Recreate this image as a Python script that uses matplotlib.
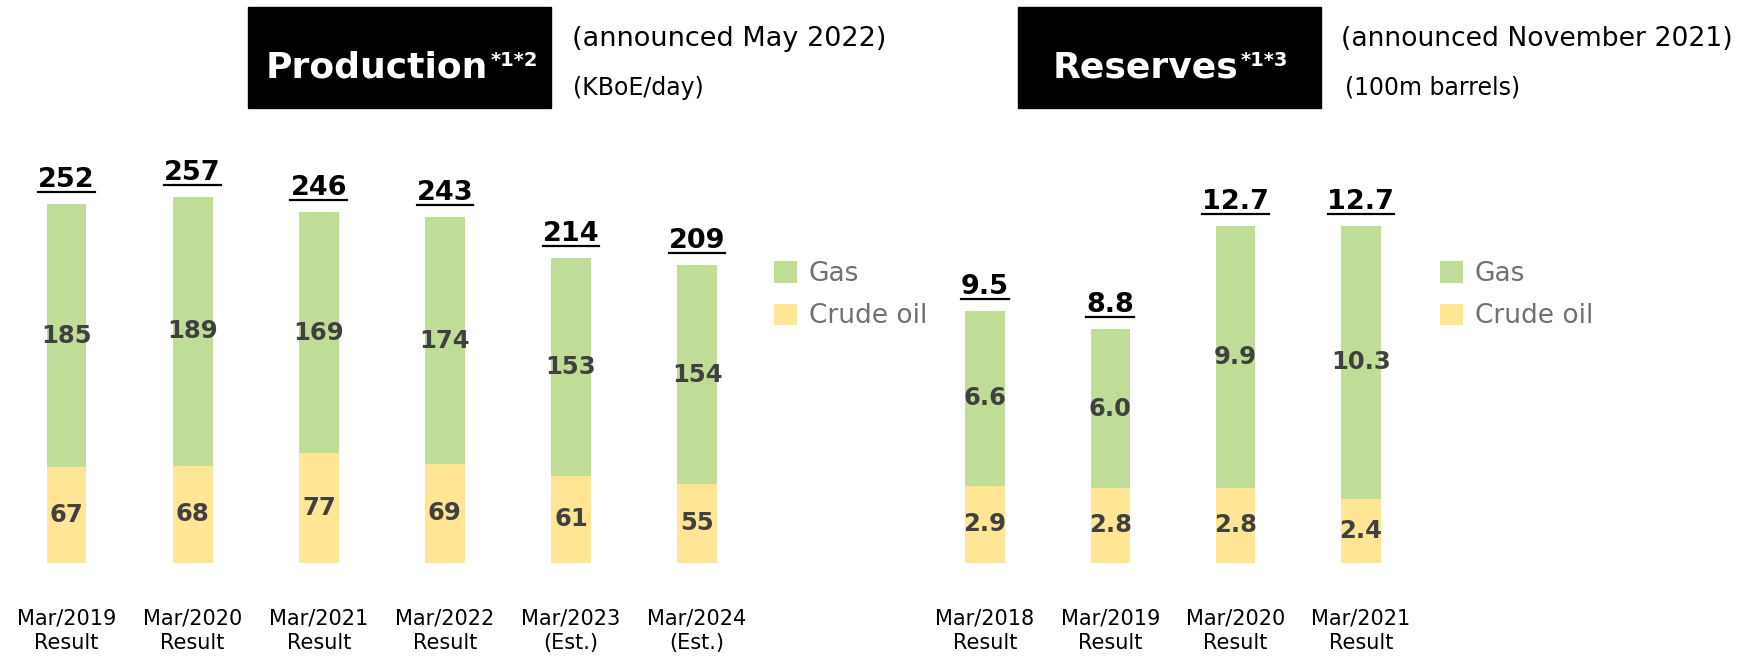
import matplotlib
matplotlib.use('Agg')
import matplotlib.pyplot as plt
from matplotlib.patches import Rectangle
from matplotlib.lines import Line2D

# Production (KBoE/day)
prod_labels = ['Mar/2019\nResult', 'Mar/2020\nResult', 'Mar/2021\nResult',
               'Mar/2022\nResult', 'Mar/2023\n(Est.)', 'Mar/2024\n(Est.)']
prod_oil = [67, 68, 77, 69, 61, 55]
prod_gas = [185, 189, 169, 174, 153, 154]
prod_total = [252, 257, 246, 243, 214, 209]

# Reserves (100m barrels)
res_labels = ['Mar/2018\nResult', 'Mar/2019\nResult', 'Mar/2020\nResult', 'Mar/2021\nResult']
res_oil = [2.9, 2.8, 2.8, 2.4]
res_gas = [6.6, 6.0, 9.9, 10.3]
res_total = [9.5, 8.8, 12.7, 12.7]

GAS = '#C0DD98'
OIL = '#FFE594'
VAL = '#404040'

W, H = 1757, 656
fig = plt.figure(figsize=(W / 100, H / 100), dpi=100)


def fx(px):
    return px / W


def fy(py):
    return 1 - py / H


def stacked(ax, labels, oil, gas, total, fmt):
    x = range(len(labels))
    b_oil = ax.bar(x, oil, width=0.315, color=OIL)
    b_gas = ax.bar(x, gas, width=0.315, bottom=oil, color=GAS)
    ax.bar_label(b_oil, labels=[fmt.format(v) for v in oil], label_type='center',
                 fontsize=17.5, fontweight='bold', color=VAL)
    ax.bar_label(b_gas, labels=[fmt.format(v) for v in gas], label_type='center',
                 fontsize=17.5, fontweight='bold', color=VAL)
    tops = []
    for i, t in enumerate(total):
        txt = ax.annotate(fmt.format(t), xy=(i, t), xytext=(0, 12.2), textcoords='offset points',
                          ha='center', va='baseline', fontsize=19.5, fontweight='bold', color='black')
        tops.append((txt, i, t))
    ax.set_xticks(list(x))
    ax.set_xticklabels(labels, fontsize=15, linespacing=1.3)
    ax.tick_params(axis='x', length=0, pad=33)
    ax.set_yticks([])
    ax.set_facecolor('none')
    for s in ax.spines.values():
        s.set_visible(False)
    ax.set_xlim(-0.5, len(labels) - 0.5)
    return b_gas, b_oil, tops


# production axes: bar centres 126px apart, baseline at y=562.5
ax1 = fig.add_axes([fx(3.5), fy(562.5), 756.6 / W, 426.9 / H])
ax1.set_ylim(0, 300)
g1, o1, tops1 = stacked(ax1, prod_labels, prod_oil, prod_gas, prod_total, '{:d}')

ax2 = fig.add_axes([fx(922.3), fy(562.5), 501.3 / W, 424 / H])
ax2.set_ylim(0, 16)
g2, o2, tops2 = stacked(ax2, res_labels, res_oil, res_gas, res_total, '{:.1f}')

for ax, gb, ob, left in [(ax1, g1, o1, 774), (ax2, g2, o2, 1440)]:
    ax.legend([gb, ob], ['Gas', 'Crude oil'], loc='upper left',
              bbox_to_anchor=(fx(left), fy(261)), bbox_transform=fig.transFigure,
              frameon=False, fontsize=19, handlelength=0.87, handleheight=0.87,
              handletextpad=0.45, labelspacing=0.62, borderpad=0, borderaxespad=0,
              labelcolor='#707070')

# header boxes
for x0, x1 in [(248, 551), (1018, 1321)]:
    fig.patches.append(Rectangle((fx(x0), fy(108)), (x1 - x0) / W, 101 / H,
                                 transform=fig.transFigure, color='black', zorder=0))

fig.canvas.draw()
r = fig.canvas.get_renderer()

for left, title, sup in [(266, 'Production', '*1*2'), (1053, 'Reserves', '*1*3')]:
    t = fig.text(fx(left), fy(77), title, color='white', fontsize=26, fontweight='bold',
                 va='baseline')
    bb = t.get_window_extent(r)
    fig.text(bb.x1 / W + fx(2), fy(66), sup, color='white', fontsize=14, fontweight='bold',
             va='baseline')

fig.text(fx(572), fy(46), '(announced May 2022)', fontsize=19.5, va='baseline')
fig.text(fx(573), fy(95), '(KBoE/day)', fontsize=17, va='baseline')
fig.text(fx(1341), fy(46), '(announced November 2021)', fontsize=19.2, va='baseline')
fig.text(fx(1345), fy(95), '(100m barrels)', fontsize=17, va='baseline')

# underline the totals
for ax, tops in [(ax1, tops1), (ax2, tops2)]:
    for txt, i, t in tops:
        bb = txt.get_window_extent(r)
        base = ax.transData.transform((i, t))[1] + 12.2 * 100 / 72
        yl = (base - 5) / H
        fig.add_artist(Line2D([bb.x0 / W, bb.x1 / W], [yl, yl], color='black', lw=1.6,
                              transform=fig.transFigure))

fig.savefig('out.png', dpi=100)
